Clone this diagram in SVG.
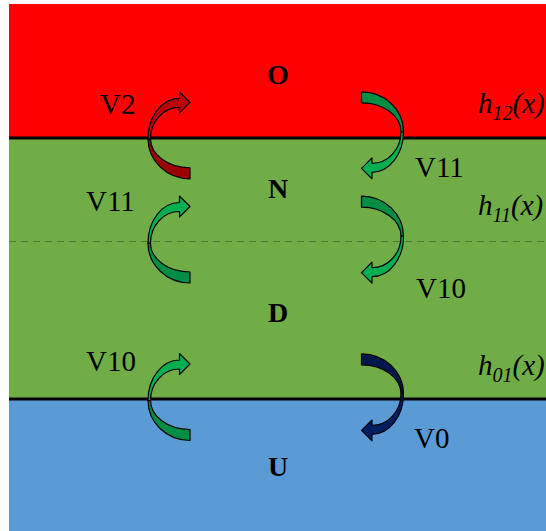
<svg xmlns="http://www.w3.org/2000/svg" width="546" height="531" viewBox="0 0 546 531">
<style>
.lbl{font-family:"Liberation Serif","Times New Roman",serif;font-size:29px;fill:#000}
.reg{font-family:"Liberation Serif","Times New Roman",serif;font-size:28px;font-weight:bold;fill:#000;text-anchor:middle}
.h{font-family:"Liberation Serif","Times New Roman",serif;font-size:29px;font-style:italic;fill:#000}
.ol{stroke:#000;stroke-width:1.2;stroke-linejoin:round}
.front{fill:var(--f)}
.back{fill:var(--b)}
.g{--f:#00B050;--b:#008E45}
.r{--f:#BA0000;--b:#9C0000}
.b{--f:#002060;--b:#00184A}
</style>
<defs>
<g id="carrow">
<path class="back ol" d="M0,0 C0,22.1 18.8,40 42,40 L42,29 C20.2,29 2.5,16 2.5,0 Z"/>
<path class="front ol" d="M0,0 C0,-22.4 14.1,-40.5 31.5,-40.5 L31.5,-47 L42,-36.5 L31.5,-26 L31.5,-31.5 C15.5,-31.5 2.5,-17.4 2.5,0 Z"/>
</g>
</defs>
<g id="background">
<rect x="9" y="4" width="537" height="134" fill="#FF0000"/>
<rect x="9" y="138" width="537" height="261" fill="#70AD47"/>
<rect x="9" y="399" width="537" height="132" fill="#5B9BD5"/>
<line x1="9" y1="241.5" x2="546" y2="241.5" stroke="#4A7A30" stroke-width="1" stroke-dasharray="7,5"/>
<line x1="9" y1="138" x2="546" y2="138" stroke="#000" stroke-width="3"/>
<line x1="9" y1="399" x2="546" y2="399" stroke="#000" stroke-width="3"/>
</g>
<g id="regions">
<text class="reg" x="278" y="84">O</text>
<text class="reg" x="278" y="198">N</text>
<text class="reg" x="278" y="322">D</text>
<text class="reg" x="278" y="476">U</text>
</g>
<g id="connectors">
<g id="arrow-V2" class="r"><use href="#carrow" transform="translate(148,138.8)"/></g>
<g id="arrow-V11-down" class="g"><use href="#carrow" transform="translate(403.5,131.8) rotate(180)"/></g>
<g id="arrow-V11-up" class="g"><use href="#carrow" transform="translate(148,243)"/></g>
<g id="arrow-V10-down" class="g"><use href="#carrow" transform="translate(403.5,236.2) rotate(180)"/></g>
<g id="arrow-V10-up" class="g"><use href="#carrow" transform="translate(148,400.5)"/></g>
<g id="arrow-V0" class="b"><use href="#carrow" transform="translate(403.5,393.8) rotate(180)"/></g>
</g>
<g id="labels">
<text class="lbl" x="100" y="114">V2</text>
<text class="lbl" x="415" y="177">V11</text>
<text class="lbl" x="86" y="211">V11</text>
<text class="lbl" x="416" y="298">V10</text>
<text class="lbl" x="86" y="371">V10</text>
<text class="lbl" x="414" y="448">V0</text>
</g>
<g id="boundaries">
<text class="h" x="478" y="113">h<tspan font-size="20" dy="7">12</tspan><tspan dy="-7">(x)</tspan></text>
<text class="h" x="478" y="215">h<tspan font-size="20" dy="7">11</tspan><tspan dy="-7">(x)</tspan></text>
<text class="h" x="478" y="375">h<tspan font-size="20" dy="7">01</tspan><tspan dy="-7">(x)</tspan></text>
</g>
</svg>
